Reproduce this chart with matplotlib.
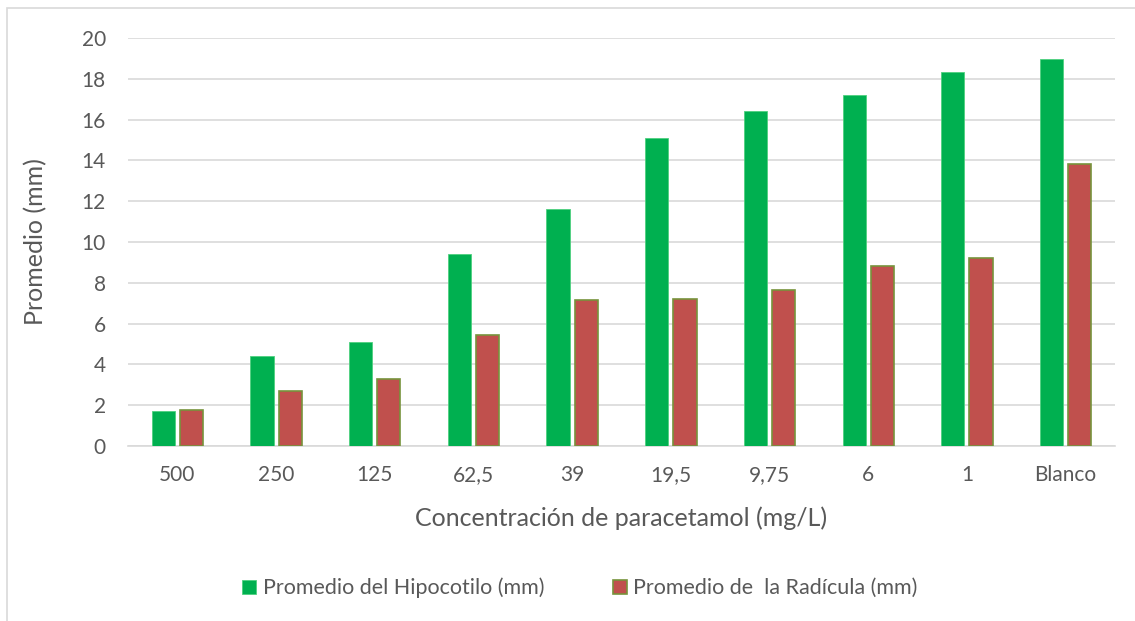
import numpy as np
import matplotlib.pyplot as plt
from matplotlib.patches import Rectangle

plt.rcParams['font.family'] = ['Lato', 'DejaVu Sans']

concentraciones = ['500', '250', '125', '62,5', '39', '19,5', '9,75', '6', '1', 'Blanco']
hipocotilo = [1.7, 4.4, 5.1, 9.4, 11.6, 15.1, 16.4, 17.2, 18.35, 18.95]
radicula = [1.75, 2.7, 3.3, 5.45, 7.15, 7.2, 7.65, 8.8, 9.2, 13.8]

W, H = 1135, 621
fig = plt.figure(figsize=(W / 100, H / 100), dpi=100)
ax = fig.add_axes([128 / W, 1 - 446 / H, (1115 - 128) / W, (446 - 38) / H])

# marco del grafico (recortado a la derecha y abajo)
fig.patches.append(Rectangle((7 / W, -0.1), 1.2, 1 - 8 / H + 0.1,
                             transform=fig.transFigure, fill=False,
                             edgecolor='#d9d9d9', linewidth=1.2))

x = np.arange(len(concentraciones))
w = 0.235
gap = 0.05
ax.bar(x - (w + gap) / 2, hipocotilo, w, color='#00b050', edgecolor='#4fd07f',
       linewidth=0.6, label='Promedio del Hipocotilo (mm)', zorder=3)
ax.bar(x + (w + gap) / 2, radicula, w, color='#c0504d', edgecolor='#77933c',
       linewidth=1.2, label='Promedio de  la Radícula (mm)', zorder=3)

ax.set_xlim(-0.5, len(concentraciones) - 0.5)
ax.set_ylim(0, 20)
ax.set_yticks(range(0, 21, 2))
ax.set_xticks(x)
ax.set_xticklabels(concentraciones)
ax.grid(axis='y', color='#d9d9d9', linewidth=1.2, zorder=0)
for s in ['top', 'right', 'left']:
    ax.spines[s].set_visible(False)
ax.spines['bottom'].set_color('#d9d9d9')
ax.spines['bottom'].set_linewidth(1.2)
ax.tick_params(length=0, labelsize=15, colors='#595959')
ax.tick_params(axis='x', pad=14)
ax.tick_params(axis='y', pad=16)

ax.set_xlabel('Concentración de paracetamol (mg/L)', fontsize=18, color='#595959')
ax.set_ylabel('Promedio (mm)', fontsize=18, color='#595959')
ax.xaxis.set_label_coords(0.5, -(506 - 446) / (446 - 38), transform=ax.transAxes)
ax.yaxis.set_label_coords(-(128 - 47) / (1115 - 128), 0.5, transform=ax.transAxes)

fig.legend(loc='center', bbox_to_anchor=(580 / W, 1 - 588 / H), ncol=2, frameon=False,
           fontsize=15.5, labelcolor='#595959', handlelength=0.65, handleheight=0.65,
           handletextpad=0.3, columnspacing=3.2)

fig.savefig('out.png', dpi=100)
